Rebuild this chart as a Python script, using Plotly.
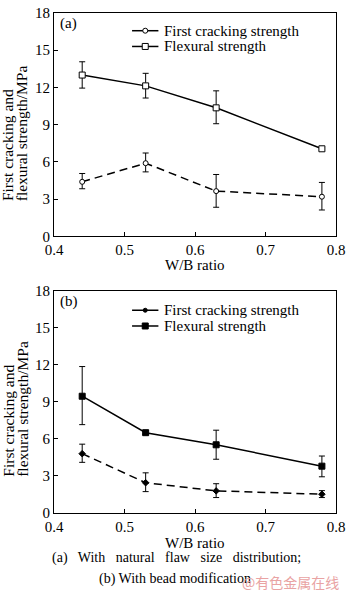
import plotly.graph_objects as go

# ---- data ----
wb = [0.44, 0.53, 0.63, 0.78]

# (a) natural flaw size distribution
a_first = [4.4, 5.9, 3.65, 3.2]
a_first_hi = [5.07, 6.72, 4.99, 4.35]
a_first_lo = [3.84, 5.2, 2.35, 2.13]
a_flex = [13.0, 12.13, 10.36, 7.06]
a_flex_hi = [14.07, 13.14, 11.73, 7.16]
a_flex_lo = [11.95, 11.15, 9.08, 6.96]

# (b) bead modification
b_first = [4.8, 2.45, 1.79, 1.52]
b_first_hi = [5.57, 3.25, 2.37, 1.81]
b_first_lo = [4.1, 1.73, 1.25, 1.25]
b_flex = [9.45, 6.5, 5.52, 3.79]
b_flex_hi = [11.85, 6.65, 6.7, 4.61]
b_flex_lo = [7.15, 6.35, 4.35, 2.93]

series_names = ["First cracking strength", "Flexural strength"]
x_ticks = [0.4, 0.5, 0.6, 0.7, 0.8]
y_ticks = [0, 3, 6, 9, 12, 15, 18]

FONT = "Liberation Serif"
H, W = 593, 350
ML, MR, MT, MB = 54, 7, 5, 80
ph = H - MT - MB
pw = W - ML - MR


def ypx(px):
    return (H - MB - px) / ph


def xpx(px):
    return (px - ML) / pw


def dom(top_px, bot_px):
    return [ypx(bot_px), ypx(top_px)]


def err(v, hi, lo):
    return dict(type="data", symmetric=False,
                array=[h - x for h, x in zip(hi, v)],
                arrayminus=[x - l for x, l in zip(v, lo)],
                color="black", thickness=1, width=3)


fig = go.Figure()


def add(v, hi, lo, sym, size, fill, dash, xa, ya):
    fig.add_trace(go.Scatter(
        x=wb, y=v, mode="lines+markers", xaxis=xa, yaxis=ya,
        line=dict(color="black", width=1.5, dash=dash),
        marker=dict(symbol=sym, size=size, color=fill,
                    line=dict(color="black", width=1)),
        error_y=err(v, hi, lo), showlegend=False))


DASH = "8px,5px"
add(a_first, a_first_hi, a_first_lo, "circle", 5, "white", DASH, "x", "y")
add(a_flex, a_flex_hi, a_flex_lo, "square", 6, "white", "solid", "x", "y")
add(b_first, b_first_hi, b_first_lo, "diamond", 5, "black", DASH, "x2", "y2")
add(b_flex, b_flex_hi, b_flex_lo, "square", 6, "black", "solid", "x2", "y2")

axis_common = dict(showline=True, linecolor="black", linewidth=1, mirror=True,
                   ticks="inside", ticklen=4, tickcolor="black", showgrid=False,
                   zeroline=False, ticklabeloverflow="allow",
                   tickfont=dict(family=FONT, size=15, color="black"))

fig.update_layout(
    width=W, height=H, margin=dict(l=ML, r=MR, t=MT, b=MB),
    paper_bgcolor="white", plot_bgcolor="white",
    font=dict(family=FONT, color="black"), showlegend=False,
    xaxis=dict(domain=[0, 1], anchor="y", range=[0.4, 0.8], tickvals=x_ticks,
               tickformat=".1f", **axis_common),
    yaxis=dict(domain=dom(5, 232), anchor="x", range=[0, 18], tickvals=y_ticks, **axis_common),
    xaxis2=dict(domain=[0, 1], anchor="y2", range=[0.4, 0.8], tickvals=x_ticks,
                tickformat=".1f", **axis_common),
    yaxis2=dict(domain=dom(287, 513), anchor="x2", range=[0, 18], tickvals=y_ticks, **axis_common),
)

ann = []
shapes = []

# legends (drawn as keys: solid line + marker + text)
legend_rows = [
    (23, "circle", "white", 5), (39, "square", "white", 6),
    (307, "circle", "black", 4), (323, "square", "black", 6),
]
for i, (ly, sym, fill, sz) in enumerate(legend_rows):
    shapes.append(dict(type="line", xref="paper", yref="paper",
                       x0=xpx(134), x1=xpx(161), y0=ypx(ly), y1=ypx(ly),
                       line=dict(color="black", width=1.5)))
    shapes.append(dict(type=sym if sym == "circle" else "rect", xref="paper", yref="paper",
                       xsizemode="pixel", ysizemode="pixel",
                       xanchor=xpx(147.5), yanchor=ypx(ly),
                       x0=-sz / 2, x1=sz / 2, y0=-sz / 2, y1=sz / 2,
                       fillcolor=fill, line=dict(color="black", width=1)))
    ann.append(dict(text=series_names[i % 2], x=xpx(165), y=ypx(ly), xref="paper", yref="paper",
                    showarrow=False, font=dict(family=FONT, size=15),
                    xanchor="left", yanchor="middle"))

# y axis titles (two lines, start-aligned at the bottom)
for by in [198, 478]:
    for txt, cx in [("First cracking and", 7), ("flexural strength/MPa", 21.5)]:
        ann.append(dict(text=txt, x=xpx(cx), y=ypx(by),
                        xref="paper", yref="paper", textangle=-90, showarrow=False,
                        font=dict(family=FONT, size=15.5), xanchor="center", yanchor="bottom"))
# x axis titles
for cy in [261, 543]:
    ann.append(dict(text="W/B ratio", x=xpx(198), y=ypx(cy), xref="paper", yref="paper",
                    showarrow=False, font=dict(family=FONT, size=15),
                    xanchor="center", yanchor="middle"))
# panel labels
ann.append(dict(text="(a)", x=xpx(58), y=ypx(16), xref="paper", yref="paper", showarrow=False,
                font=dict(family=FONT, size=15), xanchor="left", yanchor="middle"))
ann.append(dict(text="(b)", x=xpx(58), y=ypx(298), xref="paper", yref="paper", showarrow=False,
                font=dict(family=FONT, size=15), xanchor="left", yanchor="middle"))
# caption
ann.append(dict(text="(a)   With   natural   flaw   size   distribution;", x=xpx(180), y=ypx(559),
                xref="paper", yref="paper", showarrow=False,
                font=dict(family=FONT, size=14), xanchor="center", yanchor="middle"))
ann.append(dict(text="(b) With bead modification", x=xpx(178), y=ypx(580),
                xref="paper", yref="paper", showarrow=False,
                font=dict(family=FONT, size=14), xanchor="center", yanchor="middle"))
ann.append(dict(text="@有色金属在线", x=xpx(348), y=ypx(583), xref="paper", yref="paper",
                showarrow=False, font=dict(family="Noto Sans CJK SC", size=14, color="#e9a3a3"),
                xanchor="right", yanchor="middle"))
fig.update_layout(annotations=ann, shapes=shapes)

fig.write_html("out.html")
